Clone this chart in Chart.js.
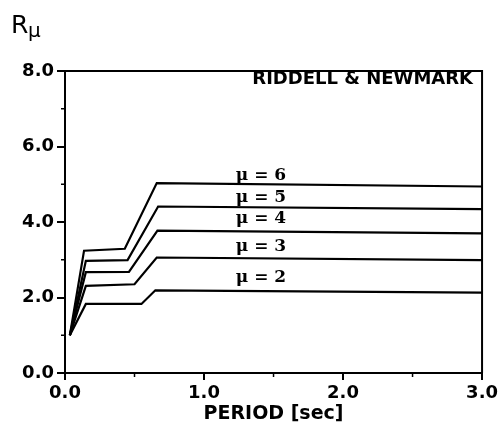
<!DOCTYPE html>
<html><head><meta charset="utf-8">
<script src="https://cdn.jsdelivr.net/npm/chart.js@4/dist/chart.umd.min.js"></script>
<style>html,body{margin:0;padding:0;background:#fff}</style>
</head><body>
<canvas id="c" width="501" height="439"></canvas>
<script>
// ---- data ----
const seriesNames = ['\u03bc = 2', '\u03bc = 3', '\u03bc = 4', '\u03bc = 5', '\u03bc = 6'];
const period2 = [0.035, 0.15, 0.55, 0.65, 3.0];
const rmu2    = [1.0, 1.83, 1.83, 2.19, 2.13];
const period3 = [0.035, 0.15, 0.50, 0.66, 3.0];
const rmu3    = [1.0, 2.31, 2.35, 3.06, 2.99];
const period4 = [0.035, 0.15, 0.46, 0.665, 3.0];
const rmu4    = [1.0, 2.67, 2.68, 3.77, 3.70];
const period5 = [0.035, 0.15, 0.45, 0.67, 3.0];
const rmu5    = [1.0, 2.97, 2.99, 4.41, 4.34];
const period6 = [0.035, 0.137, 0.43, 0.66, 3.0];
const rmu6    = [1.0, 3.24, 3.29, 5.03, 4.94];
const labelPeriod = [1.41, 1.41, 1.41, 1.41, 1.41];
const labelRmu    = [2.54, 3.36, 4.08, 4.66, 5.22];
const xTicksMajor = [0, 1, 2, 3];
const yTicksMajor = [0, 2, 4, 6, 8];
const legendText = 'RIDDELL & NEWMARK';
const xTitle = 'PERIOD [sec]';

const periods = [period2, period3, period4, period5, period6];
const rmus = [rmu2, rmu3, rmu4, rmu5, rmu6];

Chart.defaults.font.family = '"DejaVu Sans", sans-serif';
Chart.defaults.color = '#000';

const datasets = seriesNames.map((name, i) => ({
  label: name,
  data: periods[i].map((t, j) => ({x: t, y: rmus[i][j]})),
  borderColor: '#000',
  borderWidth: 2.2,
  pointRadius: 0,
  fill: false,
  tension: 0
}));

const isMajor = (arr, v) => arr.some(a => Math.abs(a - v) < 1e-9);

const decor = {
  id: 'decor',
  afterDraw(chart) {
    const ctx = chart.ctx;
    const a = chart.chartArea;
    const xs = chart.scales.x, ys = chart.scales.y;
    ctx.save();
    // frame top & right
    ctx.strokeStyle = '#000';
    ctx.lineWidth = 2;
    ctx.beginPath();
    ctx.moveTo(a.left - 1, a.top);
    ctx.lineTo(a.right, a.top);
    ctx.lineTo(a.right, a.bottom);
    ctx.stroke();
    // minor ticks
    ctx.lineWidth = 1.5;
    xs.ticks.forEach(t => {
      if (!isMajor(xTicksMajor, t.value)) {
        const px = xs.getPixelForValue(t.value);
        ctx.beginPath(); ctx.moveTo(px, a.bottom); ctx.lineTo(px, a.bottom + 4); ctx.stroke();
      }
    });
    ys.ticks.forEach(t => {
      if (!isMajor(yTicksMajor, t.value)) {
        const py = ys.getPixelForValue(t.value);
        ctx.beginPath(); ctx.moveTo(a.left, py); ctx.lineTo(a.left - 4, py); ctx.stroke();
      }
    });
    // legend text
    ctx.fillStyle = '#000';
    ctx.font = 'bold 18px "DejaVu Sans"';
    ctx.textAlign = 'right';
    ctx.textBaseline = 'middle';
    ctx.fillText(legendText, a.right - 9, a.top + 8);
    // R_mu axis label
    ctx.textAlign = 'left';
    ctx.textBaseline = 'alphabetic';
    ctx.font = '25px "DejaVu Sans"';
    ctx.fillText('R', 11, 33);
    ctx.font = '20px "DejaVu Sans"';
    ctx.fillText('\u03bc', 28, 37);
    // curve labels
    ctx.font = 'bold 17px "DejaVu Serif"';
    ctx.textAlign = 'center';
    ctx.textBaseline = 'middle';
    seriesNames.forEach((n, i) => {
      ctx.fillText(n, xs.getPixelForValue(labelPeriod[i]), ys.getPixelForValue(labelRmu[i]));
    });
    ctx.restore();
  }
};

new Chart(document.getElementById('c'), {
  type: 'line',
  data: { datasets },
  options: {
    responsive: false,
    animation: false,
    layout: { padding: { left: 0, right: 18, top: 71, bottom: 14 } },
    plugins: { legend: { display: false }, tooltip: { enabled: false } },
    scales: {
      x: {
        type: 'linear', min: 0, max: 3,
        ticks: {
          stepSize: 0.5, autoSkip: false, maxRotation: 0, padding: 3,
          font: { size: 18, weight: 'bold' }, color: '#000',
          callback: v => isMajor(xTicksMajor, v) ? v.toFixed(1) : ''
        },
        grid: {
          drawOnChartArea: false, drawTicks: true, tickLength: 7, lineWidth: 2,
          color: c => (c.tick && isMajor(xTicksMajor, c.tick.value)) ? '#000' : 'rgba(0,0,0,0)'
        },
        border: { display: true, color: '#000', width: 2 },
        title: { display: true, text: xTitle, font: { size: 19, weight: 'bold' }, color: '#000', padding: 0 },
        afterFit: s => { s.height = 52; }
      },
      y: {
        type: 'linear', min: 0, max: 8,
        ticks: {
          stepSize: 1, autoSkip: false, padding: 3,
          font: { size: 18, weight: 'bold' }, color: '#000',
          callback: v => isMajor(yTicksMajor, v) ? v.toFixed(1) : ''
        },
        grid: {
          drawOnChartArea: false, drawTicks: true, tickLength: 8, lineWidth: 2,
          color: c => (c.tick && isMajor(yTicksMajor, c.tick.value)) ? '#000' : 'rgba(0,0,0,0)'
        },
        border: { display: true, color: '#000', width: 2 },
        afterFit: s => { s.width = 65; }
      }
    }
  },
  plugins: [decor]
});
</script>
</body></html>
